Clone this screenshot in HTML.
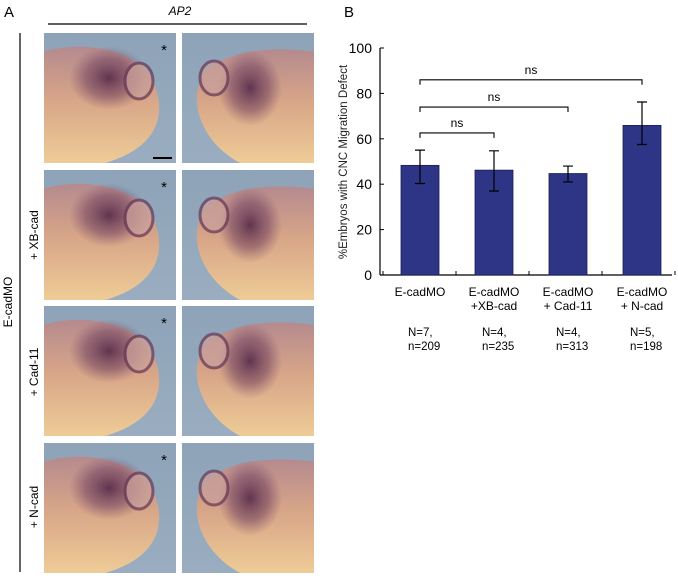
<!DOCTYPE html>
<html><head><meta charset="utf-8"><style>
html,body{margin:0;padding:0;background:#fff;}
body{width:678px;height:578px;overflow:hidden;font-family:"Liberation Sans",sans-serif;}
</style></head><body>
<svg width="678" height="578" viewBox="0 0 678 578" xmlns="http://www.w3.org/2000/svg" font-family="Liberation Sans, sans-serif">
<defs>
<linearGradient id="body" x1="0" y1="0" x2="0" y2="1"><stop offset="0" stop-color="#b58a8e"/><stop offset="0.45" stop-color="#d8a688"/><stop offset="1" stop-color="#f0cf98"/></linearGradient>
<radialGradient id="stain" cx="0.5" cy="0.5" r="0.5"><stop offset="0" stop-color="#4e2244" stop-opacity="0.85"/><stop offset="0.6" stop-color="#6a3a5c" stop-opacity="0.5"/><stop offset="1" stop-color="#7a4a66" stop-opacity="0"/></radialGradient>
<linearGradient id="bg" x1="0" y1="0" x2="0" y2="1"><stop offset="0" stop-color="#8ea3b8"/><stop offset="1" stop-color="#9aadc0"/></linearGradient>
</defs>
<text x="4" y="17" font-size="15">A</text>
<text x="180" y="15" font-size="12" font-style="italic" text-anchor="middle">AP2</text>
<line x1="48" y1="24" x2="307" y2="24" stroke="#000" stroke-width="1.2"/>
<line x1="20" y1="33" x2="20" y2="572" stroke="#000" stroke-width="1.2"/>
<text transform="translate(12,302) rotate(-90)" font-size="12" text-anchor="middle">E-cadMO</text>
<text transform="translate(38,235) rotate(-90)" font-size="12" text-anchor="middle">+ XB-cad</text>
<text transform="translate(38,372) rotate(-90)" font-size="12" text-anchor="middle">+ Cad-11</text>
<text transform="translate(38,507) rotate(-90)" font-size="12" text-anchor="middle">+ N-cad</text>
<g id="tiles"></g>
<text x="344" y="17" font-size="15">B</text>
<g id="chart"></g>
</svg>
<script>
const NS='http://www.w3.org/2000/svg';
function mk(p,t,a){const e=document.createElementNS(NS,t);for(const k in a)e.setAttribute(k,a[k]);p.appendChild(e);return e;}
const tiles=document.getElementById('tiles');
const rowsY=[33,170,306,443];
rowsY.forEach((y,r)=>{
 [44,182].forEach((x,c)=>{
  const g=mk(tiles,'g',{});
  
  
  mk(g,'rect',{x:x,y:y,width:132,height:130,fill:'url(#bg)'});
  const cp='cp'+r+c;
  const clip=mk(g,'clipPath',{id:cp});mk(clip,'rect',{x:x,y:y,width:132,height:130});
  const gg=mk(g,'g',{'clip-path':'url(#'+cp+')'});
  if(c===0){
   mk(gg,'path',{d:`M${x-5},${y+20} C${x+40},${y+5} ${x+110},${y+15} ${x+115},${y+70} C${x+118},${y+110} ${x+80},${y+128} ${x+40},${y+135} L${x-5},${y+135}Z`,fill:'url(#body)'});
   mk(gg,'ellipse',{cx:x+65,cy:y+45,rx:40,ry:32,fill:'url(#stain)'});
   mk(gg,'ellipse',{cx:x+95,cy:y+48,rx:14,ry:18,fill:'#c9a09a',stroke:'#6a3b58','stroke-width':3,opacity:0.75});
  }else{
   mk(gg,'path',{d:`M${x+140},${y+20} C${x+80},${y+10} ${x+20},${y+20} ${x+15},${y+60} C${x+12},${y+95} ${x+40},${y+125} ${x+70},${y+135} L${x+140},${y+135}Z`,fill:'url(#body)'});
   mk(gg,'ellipse',{cx:x+68,cy:y+55,rx:32,ry:38,fill:'url(#stain)'});
   mk(gg,'ellipse',{cx:x+32,cy:y+45,rx:14,ry:17,fill:'#c9a09a',stroke:'#6a3b58','stroke-width':3,opacity:0.75});
  }
  if(c===0){const s=mk(g,'text',{x:x+120,y:y+22,'font-size':15,'text-anchor':'middle'});s.textContent='*';}
  if(r===0&&c===0)mk(g,'line',{x1:x+109,y1:y+125,x2:x+128,y2:y+125,stroke:'#000','stroke-width':2});
 });
});
const categories=['E-cadMO','E-cadMO|+XB-cad','E-cadMO|+ Cad-11','E-cadMO|+ N-cad'];
const values=[48.3,46.2,44.7,65.9];
const errHigh=[55,54.7,48,76.2];
const errLow=[40.3,37,41,57.5];
const nLabels=['N=7,|n=209','N=4,|n=235','N=4,|n=313','N=5,|n=198'];
const yTicks=[0,20,40,60,80,100];
const brackets=[[0,1,62.6],[0,2,74],[0,3,86]];
const ch=document.getElementById('chart');
const X0=380,X1=672,Y0=275,Y100=48;
const yS=v=>Y0-(v/100)*(Y0-Y100);
const xS=i=>420+i*74;
const bw=38;
mk(ch,'line',{x1:X0,y1:Y100,x2:X0,y2:Y0,stroke:'#000','stroke-width':1.2});
mk(ch,'line',{x1:X0,y1:Y0,x2:X1,y2:Y0,stroke:'#000','stroke-width':1.2});
yTicks.forEach(v=>{
 mk(ch,'line',{x1:X0,y1:yS(v),x2:X0+4,y2:yS(v),stroke:'#000'});
 const t=mk(ch,'text',{x:X0-8,y:yS(v)+5,'font-size':14,'text-anchor':'end'});
 
 
 t.textContent=v;
});
[0,1,2,3,4].forEach(i=>mk(ch,'line',{x1:383+i*73,y1:Y0,x2:383+i*73,y2:Y0-4,stroke:'#000'}));
const yt=mk(ch,'text',{transform:'translate(347,162) rotate(-90)','font-size':11.5,'text-anchor':'middle',fill:'#222'});


yt.textContent='%Embryos with CNC Migration Defect';
values.forEach((v,i)=>{
 const b=mk(ch,'rect',{x:xS(i)-bw/2,y:yS(v),width:bw,height:Y0-yS(v),fill:'#2e3587',stroke:'#1a1f55','stroke-width':0.8});
 
 
 const e=mk(ch,'path',{d:`M${xS(i)-5},${yS(errHigh[i])}H${xS(i)+5}M${xS(i)},${yS(errHigh[i])}V${yS(errLow[i])}M${xS(i)-5},${yS(errLow[i])}H${xS(i)+5}`,stroke:'#000','stroke-width':1.2,fill:'none'});
 
 
 categories[i].split('|').forEach((s,k)=>{
  const t=mk(ch,'text',{x:xS(i),y:296+k*14,'font-size':12,'text-anchor':'middle'});
  
  
  t.textContent=s;
 });
 nLabels[i].split('|').forEach((s,k)=>{
  const t=mk(ch,'text',{x:xS(i)-12,y:336+k*14,'font-size':11.5});
  
  
  t.textContent=s;
 });
});
brackets.forEach(([a,b,v])=>{
 const y=yS(v);
 const p=mk(ch,'path',{d:`M${xS(a)},${y+5}V${y}H${xS(b)}V${y+5}`,stroke:'#000','stroke-width':1.1,fill:'none'});
 
 
 const t=mk(ch,'text',{x:(xS(a)+xS(b))/2,y:y-6,'font-size':12,'text-anchor':'middle'});
 
 
 t.textContent='ns';
});
</script>
</body></html>
